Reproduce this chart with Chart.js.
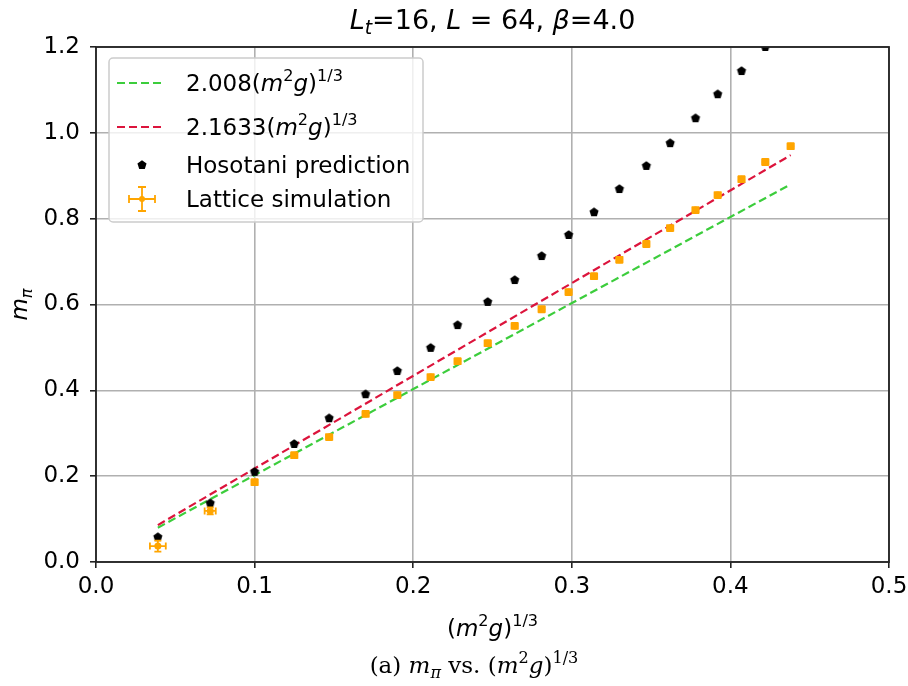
<!DOCTYPE html>
<html lang="en">
<head>
  <meta charset="UTF-8">
  <title>m_pi vs (m^2 g)^(1/3)</title>
  <script src="https://cdn.jsdelivr.net/npm/chart.js"></script>
  <style>
    body { margin: 0; background: #fff; }
    canvas { display: block; }
  </style>
</head>
<body>
  <canvas id="myChart" width="908" height="686"></canvas>

  <script>
    // values
    const xVals = [0.039, 0.072, 0.100, 0.125, 0.147, 0.170, 0.190, 0.211, 0.228, 0.247, 0.264,
      0.281, 0.298, 0.314, 0.330, 0.347, 0.362, 0.378, 0.392, 0.407, 0.422, 0.438]
    const hosotani = [0.058, 0.137, 0.210, 0.275, 0.335, 0.391, 0.445, 0.499, 0.552, 0.606, 0.657,
      0.713, 0.762, 0.815, 0.869, 0.923, 0.976, 1.034, 1.090, 1.144, 1.200]
    const lattice = [0.037, 0.119, 0.186, 0.249, 0.291, 0.345, 0.389, 0.431, 0.468, 0.510, 0.550,
      0.589, 0.629, 0.666, 0.704, 0.741, 0.778, 0.820, 0.855, 0.892, 0.932, 0.969]
    const latticeXErr = [0.005, 0.0035, 0.002, 0.002, 0.002, 0.002, 0.002, 0.002, 0.002, 0.002, 0.002,
      0.002, 0.002, 0.002, 0.002, 0.002, 0.002, 0.002, 0.002, 0.002, 0.002, 0.002]
    const latticeYErr = [0.013, 0.008, 0.007, 0.007, 0.007, 0.007, 0.007, 0.007, 0.007, 0.007, 0.007,
      0.007, 0.007, 0.007, 0.007, 0.007, 0.007, 0.007, 0.007, 0.007, 0.007, 0.007]
    const fitX = [0.039, 0.438]
    const fitGreen = [0.080, 0.880]
    const fitRed = [0.086, 0.948]
    const xTicks = [0.0, 0.1, 0.2, 0.3, 0.4, 0.5]
    const yTicks = [0.0, 0.2, 0.4, 0.6, 0.8, 1.0, 1.2]

    const SANS = '"DejaVu Sans"'
    const SERIF = '"DejaVu Serif"'
    const GREEN = '#3ccd3c'
    const RED = '#dc143c'
    const ORANGE = '#ffa500'

    // small pentagon marker
    function pentagon(r) {
      const c = document.createElement('canvas')
      const s = Math.ceil(r * 2 + 2)
      c.width = s; c.height = s
      const g = c.getContext('2d')
      g.beginPath()
      for (let k = 0; k < 5; k++) {
        const a = -Math.PI / 2 + k * 2 * Math.PI / 5
        const px = s / 2 + r * Math.cos(a), py = s / 2 + r * Math.sin(a)
        k ? g.lineTo(px, py) : g.moveTo(px, py)
      }
      g.closePath()
      g.fillStyle = '#000'
      g.fill()
      return c
    }
    const penta = pentagon(4.8)

    // text with italic / sub / sup pieces
    function partFont(p, size, family) {
      const sz = p.s ? size * 0.7 : size
      return (p.i ? 'italic ' : '') + sz + 'px ' + family
    }
    function richWidth(ctx, parts, size, family) {
      let w = 0
      parts.forEach(p => { ctx.font = partFont(p, size, family); w += ctx.measureText(p.t).width })
      return w
    }
    function drawRich(ctx, parts, x, y, size, family, align) {
      let cx = x
      const w = richWidth(ctx, parts, size, family)
      if (align === 'center') cx = x - w / 2
      ctx.textAlign = 'left'
      ctx.textBaseline = 'alphabetic'
      ctx.fillStyle = '#000'
      parts.forEach(p => {
        ctx.font = partFont(p, size, family)
        let dy = 0
        if (p.s === 'sup') dy = -size * 0.42
        if (p.s === 'sub') dy = size * 0.2
        ctx.fillText(p.t, cx, y + dy)
        cx += ctx.measureText(p.t).width
      })
    }

    const m2g = [{ t: '(' }, { t: 'm', i: true }, { t: '2', s: 'sup' }, { t: 'g', i: true }, { t: ')' }, { t: '1/3', s: 'sup' }]
    const titleParts = [{ t: 'L', i: true }, { t: 't', i: true, s: 'sub' }, { t: '=16, ' }, { t: 'L', i: true },
      { t: ' = 64, ' }, { t: 'β', i: true }, { t: '=4.0' }]
    const yTitle = [{ t: 'm', i: true }, { t: 'π', i: true, s: 'sub' }]
    const caption = [{ t: '(a) ' }, { t: 'm', i: true }, { t: 'π', i: true, s: 'sub' }, { t: ' vs. (' },
      { t: 'm', i: true }, { t: '2', s: 'sup' }, { t: 'g', i: true }, { t: ')' }, { t: '1/3', s: 'sup' }]
    const legendItems = [
      { kind: 'dash', color: GREEN, y: 83, parts: [{ t: '2.008' }].concat(m2g) },
      { kind: 'dash', color: RED, y: 127, parts: [{ t: '2.1633' }].concat(m2g) },
      { kind: 'penta', y: 165, parts: [{ t: 'Hosotani prediction' }] },
      { kind: 'err', y: 199, parts: [{ t: 'Lattice simulation' }] }
    ]

    const errorBars = {
      id: 'errorBars',
      beforeDatasetDraw(chart, args) {
        if (args.index !== 3) return
        const ctx = chart.ctx, xs = chart.scales.x, ys = chart.scales.y
        ctx.save()
        ctx.strokeStyle = ORANGE
        ctx.lineWidth = 1.8
        const cap = 3.5
        lattice.forEach((v, k) => {
          const px = xs.getPixelForValue(xVals[k]), py = ys.getPixelForValue(v)
          const x0 = xs.getPixelForValue(xVals[k] - latticeXErr[k]), x1 = xs.getPixelForValue(xVals[k] + latticeXErr[k])
          const y0 = ys.getPixelForValue(v - latticeYErr[k]), y1 = ys.getPixelForValue(v + latticeYErr[k])
          ctx.beginPath()
          ctx.moveTo(x0, py); ctx.lineTo(x1, py)
          ctx.moveTo(px, y0); ctx.lineTo(px, y1)
          ctx.moveTo(x0, py - cap); ctx.lineTo(x0, py + cap)
          ctx.moveTo(x1, py - cap); ctx.lineTo(x1, py + cap)
          ctx.moveTo(px - cap, y0); ctx.lineTo(px + cap, y0)
          ctx.moveTo(px - cap, y1); ctx.lineTo(px + cap, y1)
          ctx.stroke()
        })
        ctx.restore()
      }
    }

    const decorations = {
      id: 'decorations',
      afterDraw(chart) {
        const ctx = chart.ctx, a = chart.chartArea
        ctx.save()
        // frame
        ctx.strokeStyle = '#222'
        ctx.lineWidth = 1.8
        ctx.strokeRect(a.left, a.top, a.right - a.left, a.bottom - a.top)

        const cx = (a.left + a.right) / 2
        drawRich(ctx, titleParts, cx, 29, 27, SANS, 'center')
        drawRich(ctx, m2g, cx, 636, 23, SANS, 'center')
        drawRich(ctx, caption, 474, 673, 23, SERIF, 'center')

        ctx.save()
        ctx.translate(27, (a.top + a.bottom) / 2)
        ctx.rotate(-Math.PI / 2)
        drawRich(ctx, yTitle, 0, 0, 23, SANS, 'center')
        ctx.restore()

        // legend
        ctx.beginPath()
        ctx.roundRect(109, 58, 314, 164, 4)
        ctx.fillStyle = 'rgba(255,255,255,0.8)'
        ctx.fill()
        ctx.strokeStyle = '#cccccc'
        ctx.lineWidth = 1.5
        ctx.stroke()
        legendItems.forEach(it => {
          if (it.kind === 'dash') {
            ctx.save()
            ctx.strokeStyle = it.color
            ctx.lineWidth = 2
            ctx.setLineDash([8, 4])
            ctx.beginPath()
            ctx.moveTo(117, it.y); ctx.lineTo(165, it.y)
            ctx.stroke()
            ctx.restore()
          } else if (it.kind === 'penta') {
            ctx.drawImage(penta, 142 - penta.width / 2, it.y - penta.height / 2)
          } else {
            ctx.save()
            ctx.strokeStyle = ORANGE
            ctx.lineWidth = 1.8
            ctx.beginPath()
            ctx.moveTo(129, it.y); ctx.lineTo(155, it.y)
            ctx.moveTo(142, it.y - 12); ctx.lineTo(142, it.y + 12)
            ctx.moveTo(129, it.y - 4); ctx.lineTo(129, it.y + 4)
            ctx.moveTo(155, it.y - 4); ctx.lineTo(155, it.y + 4)
            ctx.moveTo(138, it.y - 12); ctx.lineTo(146, it.y - 12)
            ctx.moveTo(138, it.y + 12); ctx.lineTo(146, it.y + 12)
            ctx.stroke()
            ctx.fillStyle = ORANGE
            ctx.beginPath(); ctx.arc(142, it.y, 3, 0, Math.PI * 2); ctx.fill()
            ctx.restore()
          }
          drawRich(ctx, it.parts, 186, it.y + 8, 23, SANS, 'left')
        })
        ctx.restore()
      }
    }

    const ctx = document.getElementById('myChart')

    new Chart(ctx, {
      type: 'scatter',
      data: {
        datasets: [{
          label: '2.008(m2g)1/3',
          data: fitX.map((x, k) => ({ x: x, y: fitGreen[k] })),
          showLine: true,
          borderColor: GREEN,
          borderWidth: 2.2,
          borderDash: [8, 4],
          pointRadius: 0,
          order: 4
        }, {
          label: '2.1633(m2g)1/3',
          data: fitX.map((x, k) => ({ x: x, y: fitRed[k] })),
          showLine: true,
          borderColor: RED,
          borderWidth: 2.2,
          borderDash: [8, 4],
          pointRadius: 0,
          order: 3
        }, {
          label: 'Hosotani prediction',
          data: hosotani.map((y, k) => ({ x: xVals[k], y: y })),
          pointStyle: penta,
          order: 2
        }, {
          label: 'Lattice simulation',
          data: lattice.map((y, k) => ({ x: xVals[k], y: y })),
          backgroundColor: ORANGE,
          borderColor: ORANGE,
          borderWidth: 0,
          pointRadius: 3.5,
          order: 1
        }]
      },
      options: {
        responsive: false,
        animation: false,
        layout: { padding: { top: 47, right: 19, left: 0, bottom: 0 } },
        plugins: {
          legend: { display: false },
          title: { display: false },
          tooltip: { enabled: false }
        },
        scales: {
          x: {
            type: 'linear',
            min: 0,
            max: 0.5,
            afterBuildTicks: s => { s.ticks = xTicks.map(v => ({ value: v })) },
            afterFit: s => { s.height = 124; s.paddingLeft = 0; s.paddingRight = 0 },
            border: { display: false },
            grid: { color: '#b0b0b0', lineWidth: 1.6, tickColor: '#222', tickWidth: 1.6, tickLength: 6 },
            ticks: {
              color: '#000', padding: 5,
              font: { family: 'DejaVu Sans', size: 23 },
              callback: v => v.toFixed(1)
            }
          },
          y: {
            type: 'linear',
            min: 0,
            max: 1.2,
            afterBuildTicks: s => { s.ticks = yTicks.map(v => ({ value: v })) },
            afterFit: s => { s.width = 96; s.paddingTop = 0; s.paddingBottom = 0 },
            border: { display: false },
            grid: { color: '#b0b0b0', lineWidth: 1.6, tickColor: '#222', tickWidth: 1.6, tickLength: 6 },
            ticks: {
              color: '#000', padding: 10,
              font: { family: 'DejaVu Sans', size: 23 },
              callback: v => v.toFixed(1)
            }
          }
        }
      },
      plugins: [errorBars, decorations]
    });
  </script>
</body>
</html>
